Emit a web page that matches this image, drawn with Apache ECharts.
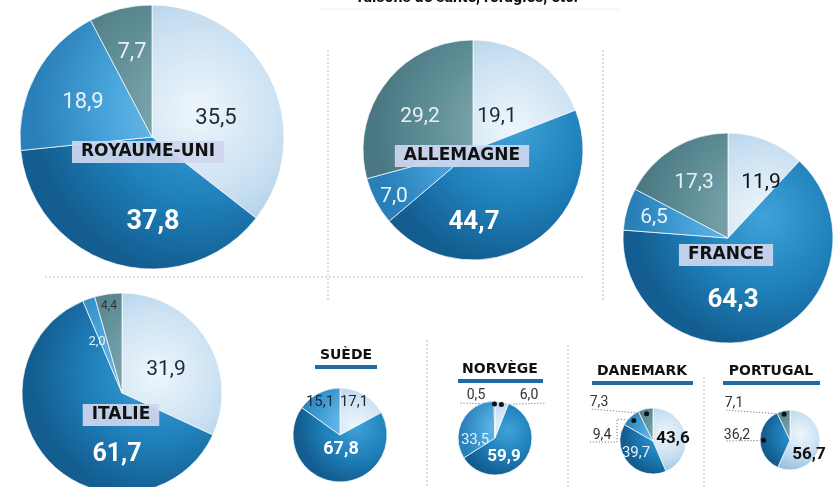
<!DOCTYPE html>
<html>
<head>
<meta charset="utf-8">
<script src="https://cdn.jsdelivr.net/npm/echarts@6/dist/echarts.min.js"></script>
<style>
  html, body { margin: 0; background: #fff; }
  #chart { width: 833px; height: 487px; }
</style>
</head>
<body>
<div id="chart"></div>
<script>
// parts (en %) par motif, dans l'ordre des aiguilles d'une montre depuis midi
var categories = ['Travail', 'Famille', 'Humanitaire', 'Autres'];
var pays = ['ROYAUME-UNI', 'ALLEMAGNE', 'FRANCE', 'ITALIE', 'SUÈDE', 'NORVÈGE', 'DANEMARK', 'PORTUGAL'];
var royaumeUni = [35.5, 37.8, 18.9, 7.7];
var allemagne = [19.1, 44.7, 7.0, 29.2];
var france = [11.9, 64.3, 6.5, 17.3];
var italie = [31.9, 61.7, 2.0, 4.4];
var suede = [17.1, 67.8, 15.1, 0];
var norvege = [6.0, 59.9, 33.5, 0.5];
var danemark = [43.6, 39.7, 9.4, 7.3];
var portugal = [56.7, 36.2, 0, 7.1];
var valeurs = [royaumeUni, allemagne, france, italie, suede, norvege, danemark, portugal];

// teintes: clair, bleu foncé, bleu moyen, gris-vert
var teintes = [
    ['#eef6fc', '#c8dff1', '#98c0de'],
    ['#3fa2d8', '#1f80ba', '#135d90'],
    ['#86c8ee', '#48a5dc', '#2a7fb8'],
    ['#8fb3ba', '#62919a', '#4a7882']
];

// mise en page (pas des données)
var mise = [
    { c: [152, 137], r: 132, nom: [148, 152], big: true,
      lab: [[216, 118], [153, 222], [83, 102], [132, 52]],
      txt: [['#1d2a36', 'normal', 22], ['#fff', 'bold', 27], ['#e6f3fb', 'normal', 22], ['#e8f0f2', 'normal', 22]] },
    { c: [473, 150], r: 110, nom: [462, 156], big: true,
      lab: [[497, 117], [474, 222], [394, 197], [420, 117]],
      txt: [['#1d2a36', 'normal', 21], ['#fff', 'bold', 26], ['#e6f3fb', 'normal', 21], ['#e8f0f2', 'normal', 21]] },
    { c: [728, 238], r: 105, nom: [726, 255], big: true,
      lab: [[761, 183], [733, 300], [654, 218], [694, 183]],
      txt: [['#111', 'normal', 21], ['#fff', 'bold', 26], ['#e6f3fb', 'normal', 21], ['#e8f0f2', 'normal', 21]] },
    { c: [122, 393], r: 100, nom: [121, 415], big: true,
      lab: [[166, 370], [117, 455], [97, 342], [109, 306]],
      txt: [['#1d2a36', 'normal', 21], ['#fff', 'bold', 25], ['#e6f3fb', 'normal', 13], ['#333', 'normal', 12]] },
    { c: [340, 435], r: 47, titre: [346, 355], barre: [315, 377],
      lab: [[354, 402], [341, 449], [320, 402], null],
      txt: [['#1d2a36', 'normal', 15], ['#fff', 'bold', 18], ['#1d2a36', 'normal', 15], null] },
    { c: [495, 438], r: 37, titre: [500, 369], barre: [458, 543], k: 0.92,
      lab: [[529, 395], [504, 457], [475, 440], [476, 395]],
      txt: [['#333', 'normal', 14], ['#fff', 'bold', 17], ['#e6f3fb', 'normal', 15], ['#333', 'normal', 14]],
      ext: [[[545, 403]], null, null, [[460, 403]]] },
    { c: [653, 441], r: 33, titre: [642, 371], barre: [592, 693], k: 0.85,
      lab: [[673, 439], [636, 453], [602, 435], [599, 402]],
      txt: [['#111', 'bold', 17], ['#e6f3fb', 'normal', 15], ['#333', 'normal', 14], ['#333', 'normal', 14]],
      ext: [null, null, [[617, 419], [617, 442], [590, 442]], [[590, 409]]] },
    { c: [790, 440], r: 30, titre: [771, 371], barre: [723, 820], k: 0.88,
      lab: [[809, 455], [737, 435], null, [734, 403]],
      txt: [['#111', 'bold', 17], ['#333', 'normal', 14], null, ['#333', 'normal', 14]],
      ext: [null, [[725, 441]], null, [[725, 410]]] }
];

function virgule(v) {
    return v.toFixed(1).replace('.', ',');
}

function degrade(m, j) {
    var t = teintes[j];
    return {
        type: 'radial', global: true,
        x: m.c[0] + m.r * 0.35, y: m.c[1] - m.r * 0.2, r: m.r * 1.25,
        colorStops: [{ offset: 0, color: t[0] }, { offset: 0.55, color: t[1] }, { offset: 1, color: t[2] }]
    };
}

// point d'ancrage au milieu d'une part (calculé depuis les valeurs)
function ancre(vals, j, m) {
    var tot = 0, avant = 0;
    vals.forEach(function (v, i) { tot += v; if (i < j) avant += v; });
    var a = 2 * Math.PI * (avant + vals[j] / 2) / tot;
    var k = m.k || 0.9;
    return [m.c[0] + k * m.r * Math.sin(a), m.c[1] - k * m.r * Math.cos(a)];
}

var series = [];
var graphic = [];

valeurs.forEach(function (vals, s) {
    var m = mise[s];
    var data = vals.map(function (v, j) {
        var t = m.txt[j];
        var dehors = m.ext && m.ext[j];
        return {
            name: categories[j],
            value: v,
            itemStyle: { color: degrade(m, j), borderWidth: v > 0 ? 1 : 0 },
            label: {
                show: v > 0 && !!t,
                position: dehors ? 'outside' : 'inside',
                color: t ? t[0] : '#000',
                fontWeight: t ? t[1] : 'normal',
                fontSize: t ? t[2] : 12
            },
            labelLine: {
                show: !!dehors,
                lineStyle: { color: '#666', width: 1, type: [1, 2] }
            }
        };
    });
    series.push({
        type: 'pie',
        name: pays[s],
        center: m.c,
        radius: m.r,
        startAngle: 90,
        clockwise: true,
        avoidLabelOverlap: false,
        silent: true,
        itemStyle: { borderColor: 'rgba(255,255,255,0.7)' },
        label: {
            fontFamily: 'Roboto',
            formatter: function (p) { return virgule(p.value); }
        },
        labelLayout: function (p) {
            var pos = m.lab[p.dataIndex];
            if (!pos) return;
            var res = { x: pos[0], y: pos[1], align: 'center', verticalAlign: 'middle' };
            var e = m.ext && m.ext[p.dataIndex];
            if (e) {
                res.labelLinePoints = [ancre(vals, p.dataIndex, m)].concat(e);
            }
            return res;
        },
        data: data
    });

    // noms des pays
    if (m.big) {
        graphic.push({
            type: 'text', z: 20, x: m.nom[0], y: m.nom[1],
            style: {
                text: pays[s], align: 'center', verticalAlign: 'middle',
                font: 'bold 17px "DejaVu Sans"', fill: '#111',
                backgroundColor: 'rgba(205,214,238,0.93)', padding: [3, 9, 2, 9]
            }
        });
    } else {
        graphic.push({
            type: 'text', z: 20, x: m.titre[0], y: m.titre[1],
            style: {
                text: pays[s], align: 'center', verticalAlign: 'middle',
                font: 'bold 14px "DejaVu Sans"', fill: '#111'
            }
        });
        graphic.push({
            type: 'rect', z: 20,
            shape: { x: m.barre[0], y: m.titre[1] + 10, width: m.barre[1] - m.barre[0], height: 4 },
            style: { fill: '#1c6aa6' }
        });
    }
    // points noirs des étiquettes extérieures
    if (m.ext) {
        m.ext.forEach(function (e, j) {
            if (!e) return;
            var a = ancre(vals, j, m);
            graphic.push({
                type: 'circle', z: 20,
                shape: { cx: a[0], cy: a[1], r: 2.5 },
                style: { fill: '#111' }
            });
        });
    }
});

// séparateurs en pointillés
[
    [45, 277, 583, 277], [328, 50, 328, 300], [603, 50, 603, 300],
    [427, 340, 427, 487], [568, 345, 568, 487], [704, 377, 704, 487]
].forEach(function (l) {
    graphic.push({
        type: 'line', z: 0, silent: true,
        shape: { x1: l[0], y1: l[1], x2: l[2], y2: l[3] },
        style: { stroke: '#bdbdbd', lineWidth: 1, lineDash: [2, 2] }
    });
});

// bas du titre coupé en haut de l'image
graphic.push({
    type: 'text', z: 20, x: 468, y: -2,
    style: { text: 'raisons de santé, réfugiés, etc.', align: 'center', verticalAlign: 'middle',
             font: 'bold 16px Roboto', fill: '#111' }
});
graphic.push({
    type: 'line', z: 0, shape: { x1: 320, y1: 9, x2: 620, y2: 9 },
    style: { stroke: '#f0f0f0', lineWidth: 1 }
});

var myChart = echarts.init(document.getElementById('chart'));
myChart.setOption({
    animation: false,
    backgroundColor: '#fff',
    series: series,
    graphic: graphic
});
</script>
</body>
</html>
